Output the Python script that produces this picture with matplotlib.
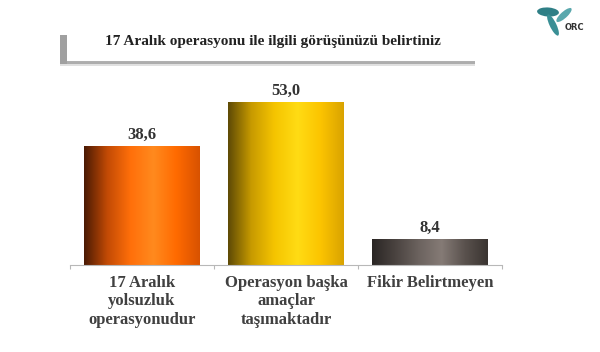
import numpy as np
import matplotlib
matplotlib.use("Agg")
import matplotlib.pyplot as plt
from matplotlib.colors import LinearSegmentedColormap
from matplotlib.patches import Rectangle, Ellipse

categories = ["17 Aralık\nyolsuzluk\noperasyonudur",
              "Operasyon başka\namaçlar\ntaşımaktadır",
              "Fikir Belirtmeyen"]
values = [38.6, 53.0, 8.4]
labels = ["38,6", "53,0", "8,4"]
title = "17 Aralık operasyonu ile ilgili görüşünüzü belirtiniz"

# gradient stops (left edge -> highlight -> right edge) for each bar
grads = [
    ["#4a1a04", "#c24a05", "#ff6f0a", "#ff8a1e", "#ff6a00", "#d85200"],
    ["#5e4a06", "#c79a00", "#f5c400", "#ffdc14", "#fcc400", "#d9a300"],
    ["#2a2624", "#4a4340", "#6b625e", "#857b76", "#5a524e", "#3a3431"],
]
FONT = "Liberation Serif"

fig = plt.figure(figsize=(6.0, 3.52), dpi=100)
ax = fig.add_axes([0.1167, 0.247, 0.72, 0.524])

x = np.arange(len(values))
bars = ax.bar(x, values, width=0.8, color="none", edgecolor="none")
ax.set_xlim(-0.5, 2.5)
ax.set_ylim(0, 60)

grad = np.linspace(0, 1, 256).reshape(1, -1)
for b, stops in zip(bars, grads):
    cmap = LinearSegmentedColormap.from_list("g", stops)
    x0, w, h = b.get_x(), b.get_width(), b.get_height()
    im = ax.imshow(grad, cmap=cmap, aspect="auto",
                   extent=(x0, x0 + w, 0, h), zorder=2)
    im.set_clip_path(b)

for b, lab in zip(bars, labels):
    ax.text(b.get_x() + b.get_width() / 2, b.get_height() + 1.0, lab,
            ha="center", va="bottom", fontsize=12, fontweight="bold",
            family=FONT, color="#333333")

for s in ["top", "right", "left"]:
    ax.spines[s].set_visible(False)
ax.spines["bottom"].set_color("#b8b8b8")
ax.set_yticks([])
ax.set_xticks([-0.5, 0.5, 1.5, 2.5])
ax.set_xticklabels([])
ax.tick_params(axis="x", length=3, color="#b8b8b8", direction="out")
for xi, cat in zip(x, categories):
    ax.text(xi, -3.2, cat, ha="center", va="top", fontsize=12,
            fontweight="bold", family=FONT, color="#404040",
            linespacing=1.2)

# title with grey shadow strip
for off, a in [(0, 0.9), (1.5, 0.35)]:
    fig.add_artist(Rectangle((60 / 600, 1 - (64 + off) / 352), 415 / 600, 3 / 352,
                             transform=fig.transFigure, color="#a8a8a8",
                             alpha=a, lw=0))
fig.add_artist(Rectangle((60 / 600, 1 - 64 / 352), 7 / 600, 29 / 352,
                         transform=fig.transFigure, color="#a0a0a0", lw=0))
fig.text(273 / 600, 1 - 42 / 352, title, ha="center", va="center",
         fontsize=11, fontweight="bold", family=FONT,
         color="#222222")

# small logo
fig.add_artist(Ellipse((548 / 600, 1 - 12 / 352), 22 / 600, 9 / 352, angle=-10,
                       transform=fig.transFigure, color="#2f7f86", lw=0))
fig.add_artist(Ellipse((553 / 600, 1 - 25 / 352), 7 / 600, 22 / 352, angle=15,
                       transform=fig.transFigure, color="#3a8f95", lw=0))
fig.add_artist(Ellipse((564 / 600, 1 - 15 / 352), 8 / 600, 16 / 352, angle=-30,
                       transform=fig.transFigure, color="#5aa8ad", lw=0))
fig.text(574 / 600, 1 - 27 / 352, "ORC", ha="center", va="center",
         fontsize=6, fontweight="bold", color="#333333")

fig.savefig("out.png", dpi=100)
